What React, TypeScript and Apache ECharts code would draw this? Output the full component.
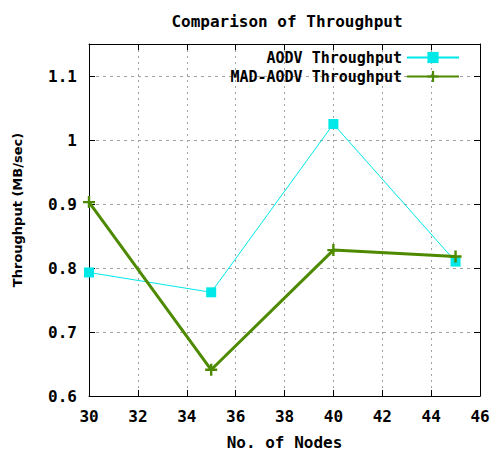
import React, { useEffect, useRef } from "react";
import * as echarts from "echarts";

const nodes = [30, 35, 40, 45];
const aodvThroughput = [0.793, 0.762, 1.025, 0.81];
const madAodvThroughput = [0.903, 0.641, 0.828, 0.818];
const seriesNames = ["AODV Throughput", "MAD-AODV Throughput"];

const MONO = "'DejaVu Sans Mono', monospace";
const PLUS = "path://M4,0 H6 V4 H10 V6 H6 V10 H4 V6 H0 V4 H4 Z";

export default function App() {
  const ref = useRef<HTMLDivElement>(null);
  useEffect(() => {
    if (!ref.current) return;
    const chart = echarts.init(ref.current, null, { renderer: "svg" });
    const tick = { show: true, inside: true, length: 6, lineStyle: { color: "#000" } };
    const axisLine = { show: true, lineStyle: { color: "#000", width: 1 } };
    const grid = { show: true, lineStyle: { color: "#a0a0a0", type: [2, 4], width: 1 } };
    const labelStyle = { fontFamily: MONO, fontWeight: "bold", fontSize: 16, color: "#000" };
    const legendText = { ...labelStyle, fontSize: 15, lineHeight: 15 };
    chart.setOption({
      animation: false,
      backgroundColor: "#fff",
      title: {
        text: "Comparison of Throughput",
        left: 282,
        textAlign: "center",
        top: 8,
        textStyle: labelStyle,
      },
      grid: { left: 89, right: 17, top: 44, bottom: 56 },
      legend: [
        {
          data: [seriesNames[0]],
          right: 37,
          top: 50,
          align: "right",
          itemWidth: 52,
          itemHeight: 14,
          padding: 0,
          textStyle: legendText,
        },
        {
          data: [seriesNames[1]],
          right: 37,
          top: 69,
          align: "right",
          itemWidth: 52,
          itemHeight: 14,
          padding: 0,
          textStyle: legendText,
        },
      ],
      xAxis: [
        {
          type: "value",
          min: 30,
          max: 46,
          interval: 2,
          axisLine,
          axisTick: tick,
          splitLine: grid,
          axisLabel: { ...labelStyle, margin: 12 },
          name: "No. of Nodes",
          nameLocation: "middle",
          nameGap: 38,
          nameTextStyle: labelStyle,
        },
        {
          type: "value",
          position: "top",
          min: 30,
          max: 46,
          interval: 2,
          axisLine,
          axisTick: tick,
          splitLine: { show: false },
          axisLabel: { show: false },
        },
      ],
      yAxis: [
        {
          type: "value",
          min: 0.6,
          max: 1.15,
          interval: 0.1,
          axisLine,
          axisTick: tick,
          splitLine: { show: true, lineStyle: { color: "#a0a0a0", type: [3, 4], width: 1 } },
          axisLabel: {
            ...labelStyle,
            margin: 12,
            formatter: (v: number) => {
              if (v > 1.12) return "";
              const s = v.toFixed(1);
              return s === "1.0" ? "1" : s;
            },
          },
        },
        {
          type: "value",
          position: "right",
          min: 0.6,
          max: 1.15,
          interval: 0.1,
          axisLine,
          axisTick: tick,
          splitLine: { show: false },
          axisLabel: { show: false },
        },
      ],
      graphic: [
        {
          type: "text",
          x: 17,
          y: 210,
          rotation: Math.PI / 2,
          style: {
            text: "Throughput (MB/sec)",
            fontFamily: "'DejaVu Sans', sans-serif",
            fontWeight: "bold",
            fontSize: 13,
            fill: "#000",
            align: "center",
            verticalAlign: "middle",
          },
        },
      ],
      series: [
        {
          name: seriesNames[0],
          type: "line",
          data: nodes.map((n, i) => [n, aodvThroughput[i]]),
          symbol: "rect",
          symbolSize: 10,
          lineStyle: { color: "#00e8e8", width: 1 },
          itemStyle: { color: "#00e8e8" },
          z: 2,
        },
        {
          name: seriesNames[1],
          type: "line",
          data: nodes.map((n, i) => [n, madAodvThroughput[i]]),
          symbol: PLUS,
          symbolSize: 12,
          lineStyle: { color: "#4e8a00", width: 3 },
          itemStyle: { color: "#4e8a00" },
          z: 3,
        },
      ],
    });
    return () => chart.dispose();
  }, []);
  return <div ref={ref} style={{ width: 497, height: 455, position: "absolute", left: 0, top: 0 }} />;
}
